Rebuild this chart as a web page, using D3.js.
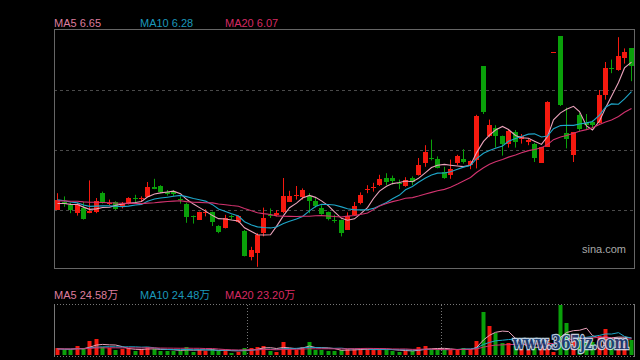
<!DOCTYPE html>
<html>
<head>
<meta charset="utf-8">
<script src="https://cdn.jsdelivr.net/npm/d3@7"></script>
<style>
  body { margin: 0; background: #000; }
  svg { display: block; }
</style>
</head>
<body>
<svg id="chart" width="640" height="360"></svg>
<script>
// daily prices (90 sessions)
const opens = [4.81,4.90,4.86,4.77,4.83,4.77,4.77,5.01,4.88,4.90, 4.84,4.88,4.95,4.94,4.97,5.09,5.10,5.02,5.03,4.94,
  4.88,4.73,4.68,4.77,4.77,4.60,4.58,4.72,4.65,4.54, 4.21,4.26,4.51,4.74,4.73,4.77,4.91,4.98,4.96,4.98,
  4.91,4.83,4.77,4.68,4.68,4.56,4.74,4.89,5.05,5.08, 5.11,5.20,5.20,5.14,5.11,5.20,5.24,5.38,5.45,5.44,
  5.28,5.24,5.38,5.44,5.36,5.43,6.60,5.72,5.82,5.73, 5.63,5.78,5.68,5.66,5.63,5.39,5.59,6.77,6.97,5.76,
  5.48,5.99,5.89,5.90,5.89,6.24,6.57,6.55,6.70,6.82];
const highs = [5.01,4.97,4.89,4.89,4.90,5.17,4.95,5.03,4.93,4.91, 4.90,4.96,4.99,4.97,5.15,5.19,5.11,5.05,5.05,4.97,
  4.89,4.73,4.78,4.81,4.78,4.61,4.74,4.74,4.73,4.55, 4.34,4.51,4.83,4.82,4.80,5.20,5.04,5.10,5.07,5.01,
  4.96,4.86,4.78,4.74,4.68,4.77,4.90,5.02,5.11,5.14, 5.24,5.26,5.23,5.18,5.21,5.22,5.45,5.61,5.68,5.47,
  5.34,5.43,5.49,5.56,5.42,5.99,6.60,5.93,5.86,5.73, 5.80,5.80,5.75,5.69,5.64,5.59,6.16,6.77,6.97,6.08,
  5.77,6.01,6.00,5.92,6.30,6.65,6.68,6.96,6.82,6.82];
const lows = [4.80,4.84,4.76,4.73,4.68,4.76,4.76,4.88,4.86,4.80, 4.82,4.87,4.90,4.90,4.96,5.06,5.01,4.98,4.97,4.88,
  4.64,4.63,4.68,4.72,4.60,4.51,4.57,4.68,4.64,4.22, 4.17,4.09,4.47,4.70,4.72,4.76,4.90,4.93,4.93,4.76,
  4.83,4.74,4.67,4.64,4.47,4.56,4.73,4.87,5.01,5.03, 5.10,5.11,5.12,5.06,5.09,5.11,5.23,5.34,5.42,5.32,
  5.19,5.19,5.36,5.38,5.31,5.32,6.00,5.71,5.58,5.48, 5.58,5.58,5.63,5.61,5.40,5.39,5.59,6.77,6.10,5.57,
  5.40,5.78,5.80,5.82,5.88,6.18,6.51,6.54,6.63,6.41];
const closes = [4.93,4.88,4.80,4.88,4.69,4.79,4.91,4.89,4.89,4.81, 4.88,4.95,4.94,4.95,5.09,5.07,5.02,5.00,5.00,4.93,
  4.72,4.72,4.78,4.78,4.65,4.53,4.70,4.71,4.72,4.23, 4.30,4.49,4.70,4.73,4.76,4.97,4.98,4.99,5.05,4.92,
  4.85,4.76,4.68,4.67,4.52,4.73,4.85,4.99,5.06,5.09, 5.19,5.15,5.16,5.13,5.18,5.15,5.36,5.52,5.44,5.33,
  5.20,5.31,5.47,5.40,5.41,5.98,6.03,5.86,5.72,5.63, 5.79,5.66,5.72,5.68,5.45,5.59,6.15,6.77,6.11,5.68,
  5.77,5.82,5.87,5.86,6.24,6.58,6.56,6.73,6.77,6.60];
// closes of the 19 sessions before the window (for the moving averages)
const prevCloses = [4.86,4.88,4.90,4.85,4.87,4.92,4.95,4.93,4.90,4.94,4.98,4.96,4.99,4.95,4.97,4.88,4.86,4.89,4.85];

// volume, in 万 shares
const volumes = [9.7,7.3,7.3,13.1,8.3,20.3,23.2,12.0,9.7,7.3, 8.3,9.7,6.2,8.3,11.2,8.7,6.2,5.8,6.2,6.2,
  12.0,4.8,7.3,6.2,8.3,6.2,7.3,3.3,4.8,10.6, 10.6,12.0,13.5,6.2,4.8,18.4,8.7,7.3,11.2,19.3,
  7.3,7.3,6.2,6.2,7.3,8.7,8.7,8.7,8.7,8.7, 8.7,7.3,5.8,4.4,6.2,6.2,11.2,13.1,8.3,8.3,
  7.3,7.3,8.3,9.7,8.3,20.3,62.4,42.1,31.5,17.0, 17.0,13.1,8.0,7.0,11.0,17.0,23.2,4.4,72.5,46.0,
  30.5,26.0,19.5,18.3,27.6,37.3,21.8,24.7,17.4,21.7];
const prevVolumes = [9.5,8.0,10.2,7.6,8.8,11.0,9.3,7.9,8.5,10.4,9.0,8.2,7.5,9.8,8.9,10.6,8.1,7.7,9.2];

const maPeriods = [5, 10, 20];
const priceGrid = [6.30, 5.55, 4.80];
const monthBreaks = [30, 60];   // first session of a new month

const maColors = ["#eaa2bb", "#1ea6c9", "#d2336f"];
const maTextColors = ["#de7d9d", "#1b98bb", "#d72a62"];
const upColor = "#f5190f", downColor = "#0aa00a";

const svg = d3.select("#chart");
svg.append("rect").attr("width", 640).attr("height", 360).attr("fill", "#000");

const left = 54, right = 634;
const idx = d3.range(closes.length);

const x = d3.scaleBand().domain(idx).range([left, right]).paddingInner(0.25).paddingOuter(0.125);
const cx = i => Math.round(x(i) + x.bandwidth() / 2);

const y = d3.scaleLinear().domain([4.05, 7.05]).range([270, 30]);
const yv = d3.scaleLinear().domain([0, d3.max(volumes)]).range([355, 305]);

// moving average, using the earlier sessions for the warm-up
function movingAvg(prev, vals, n) {
  const all = prev.concat(vals);
  const off = prev.length;
  return vals.map((v, i) => d3.mean(all.slice(off + i - n + 1, off + i + 1)));
}

const font = "'Liberation Sans', Arial, 'Noto Sans CJK SC', sans-serif";

// ---- price panel ----
svg.append("g").selectAll("line").data(priceGrid).enter().append("line")
  .attr("x1", left).attr("x2", right)
  .attr("y1", d => Math.round(y(d)) + 0.5).attr("y2", d => Math.round(y(d)) + 0.5)
  .attr("stroke", "#4a4a4a").attr("stroke-dasharray", "3,3");

svg.append("rect")
  .attr("x", left + 0.5).attr("y", 29.5).attr("width", right - left).attr("height", 239)
  .attr("fill", "none").attr("stroke", "#666");

const candles = svg.append("g").selectAll("g").data(idx).enter().append("g");
candles.append("line")
  .attr("x1", i => cx(i) + 0.5).attr("x2", i => cx(i) + 0.5)
  .attr("y1", i => y(highs[i])).attr("y2", i => y(lows[i]))
  .attr("stroke", i => closes[i] >= opens[i] ? upColor : downColor);
candles.append("rect")
  .attr("x", i => cx(i) - 2)
  .attr("width", 5)
  .attr("y", i => Math.round(y(Math.max(opens[i], closes[i]))))
  .attr("height", i => Math.max(1, Math.round(Math.abs(y(opens[i]) - y(closes[i])))))
  .attr("fill", i => closes[i] >= opens[i] ? upColor : downColor);

const priceMA = maPeriods.map(n => movingAvg(prevCloses, closes, n));
const maLine = d3.line().x((d, i) => cx(i) + 0.5).y(d => y(d));
svg.append("g").selectAll("path").data(priceMA).enter().append("path")
  .attr("d", maLine).attr("fill", "none")
  .attr("stroke", (d, k) => maColors[k]).attr("stroke-width", 1.1);

// legend
const legendX = [54, 140, 225];
svg.append("g").selectAll("text").data(priceMA).enter().append("text")
  .attr("x", (d, k) => legendX[k]).attr("y", 27)
  .attr("fill", (d, k) => maTextColors[k])
  .attr("font-family", font).attr("font-size", 11)
  .text((d, k) => "MA" + maPeriods[k] + " " + d[d.length - 1].toFixed(2));

svg.append("text").attr("x", 582).attr("y", 253)
  .attr("fill", "#a8a8a8").attr("font-family", font).attr("font-size", 11)
  .text("sina.com");

// ---- volume panel ----
const volG = svg.append("g");
volG.append("line").attr("x1", left).attr("x2", right).attr("y1", 304.5).attr("y2", 304.5)
  .attr("stroke", "#777").attr("stroke-dasharray", "1,2");
volG.append("line").attr("x1", left).attr("x2", right).attr("y1", 356.5).attr("y2", 356.5)
  .attr("stroke", "#777").attr("stroke-dasharray", "1,2");
volG.append("line").attr("x1", left + 0.5).attr("x2", left + 0.5).attr("y1", 304).attr("y2", 357)
  .attr("stroke", "#777");
volG.append("line").attr("x1", right + 0.5).attr("x2", right + 0.5).attr("y1", 304).attr("y2", 357)
  .attr("stroke", "#777");
volG.selectAll("line.month").data(monthBreaks).enter().append("line").attr("class", "month")
  .attr("x1", d => Math.round(x(d) - x.step() * 0.125) + 0.5)
  .attr("x2", d => Math.round(x(d) - x.step() * 0.125) + 0.5)
  .attr("y1", 305).attr("y2", 356)
  .attr("stroke", "#777").attr("stroke-dasharray", "1,2");

volG.selectAll("rect.vol").data(idx).enter().append("rect").attr("class", "vol")
  .attr("x", i => cx(i) - 1.5).attr("width", 4)
  .attr("y", i => Math.round(yv(volumes[i])))
  .attr("height", i => 355 - Math.round(yv(volumes[i])))
  .attr("fill", i => closes[i] >= opens[i] ? upColor : downColor);

const volMA = maPeriods.map(n => movingAvg(prevVolumes, volumes, n));
const volLine = d3.line().x((d, i) => cx(i) + 0.5).y(d => yv(d));
volG.selectAll("path").data(volMA).enter().append("path")
  .attr("d", volLine).attr("fill", "none")
  .attr("stroke", (d, k) => maColors[k]).attr("stroke-width", 1);

svg.append("g").selectAll("text").data(volMA).enter().append("text")
  .attr("x", (d, k) => legendX[k]).attr("y", 299)
  .attr("fill", (d, k) => maTextColors[k])
  .attr("font-family", font).attr("font-size", 11)
  .text((d, k) => "MA" + maPeriods[k] + " " + d[d.length - 1].toFixed(2) + "万");

// site watermark over the corner
svg.append("text").attr("x", 513).attr("y", 349)
  .attr("font-family", "'DejaVu Serif', serif").attr("font-weight", "bold").attr("font-size", 18)
  .attr("textLength", 116).attr("lengthAdjust", "spacingAndGlyphs")
  .attr("fill", "#1f3f78").attr("stroke", "#cfe0f2").attr("stroke-width", 2.5)
  .attr("paint-order", "stroke").attr("opacity", 0.9)
  .text("www.365jz.com");
</script>
</body>
</html>
